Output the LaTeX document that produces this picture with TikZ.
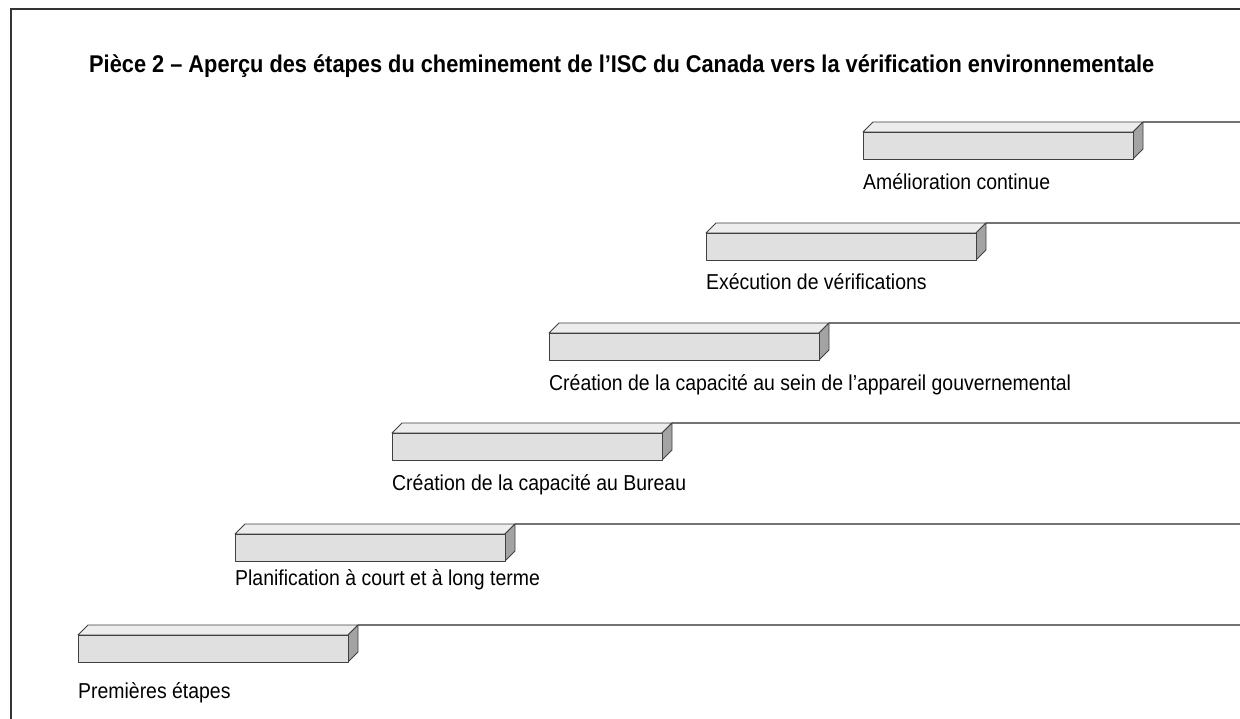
\documentclass[tikz,border=0pt]{standalone}
\usepackage{fontspec}
\setmainfont{Liberation Sans}
\newfontfamily\lblfont[FakeStretch=0.9]{Liberation Sans}
\begin{document}
\begin{tikzpicture}[x=1pt,y=-1pt,
  boxline/.style={draw=black!75, line width=0.8pt, line join=round},
  frontface/.style={boxline, fill=black!12},
  topface/.style={boxline, fill=black!7},
  sideface/.style={boxline, fill=black!36},
  guide/.style={draw=black!55, line width=1.3pt},
  frame/.style={draw=black!80, line width=1.3pt},
  lbl/.style={anchor=base west, inner sep=0pt, font=\lblfont\fontsize{21.6}{24}\selectfont},
  ttl/.style={anchor=base west, inner sep=0pt, font=\lblfont\bfseries\fontsize{24.2}{28}\selectfont}]
\useasboundingbox (0,0) rectangle (1240,719);
\coordinate (fb) at (11,719);
\coordinate (fc) at (11,9);
\coordinate (fr) at (1240,9);
\draw[frame] (fb) -- (fc) -- (fr);
\node[ttl] (title) at (89,73) {Pièce 2 – Aperçu des étapes du cheminement de l’ISC du Canada vers la vérification environnementale};
\foreach \i/\x/\y/\ly/\t in {1/863/132/190/{Amélioration continue},
  2/706/233/290/{Exécution de vérifications},
  3/549/333/390/{Création de la capacité au sein de l’appareil gouvernemental},
  4/392/433/490/{Création de la capacité au Bureau},
  5/235/534/585/{Planification à court et à long terme},
  6/78/635/698/{Premières étapes}} {
  \coordinate (s\i) at (\x+280,\y-10);
  \coordinate (e\i) at (1240,\y-10);
  \draw[guide] (s\i) -- (e\i);
  \draw[topface] (\x,\y) -- ++(10,-10) -- ++(270,0) -- ++(-10,10) -- cycle;
  \draw[sideface] (\x+270,\y) -- ++(10,-10) -- ++(0,27) -- ++(-10,10) -- cycle;
  \draw[frontface] (\x,\y) rectangle ++(270,27);
  \node[lbl] (l\i) at (\x,\ly) {\t};
}
\end{tikzpicture}
\end{document}
